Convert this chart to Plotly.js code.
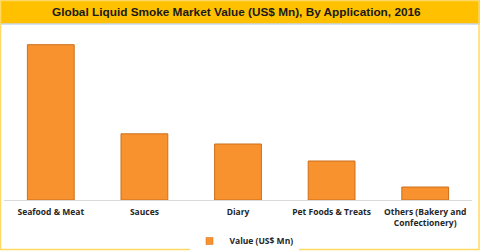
<!DOCTYPE html>
<html>
<head>
<meta charset="utf-8">
<script src="https://cdn.plot.ly/plotly-3.0.1.min.js"></script>
<style>html,body{margin:0;padding:0;background:#fff;}#chart{width:480px;height:251px;}</style>
</head>
<body>
<div id="chart"></div>
<script>
const categories = ["Seafood & Meat", "Sauces", "Diary", "Pet Foods & Treats", "Others (Bakery and<br>Confectionery)"];
const values = [155.3, 66.2, 56.0, 39.0, 13.0];
const seriesName = "Value (US$ Mn)";
const chartTitle = "Global Liquid Smoke Market Value (US$ Mn), By Application, 2016";

const W = 480, H = 251;
const mL = 4, mR = 8, mT = 28, mB = 51;
const pw = W - mL - mR, ph = H - mT - mB;
const px = x => (x - mL) / pw;
const py = y => 1 - (y - mT) / ph;
const FONT = '"Open Sans", sans-serif';

const bars = {
  type: 'bar',
  x: categories,
  y: values,
  name: seriesName,
  width: 0.5,
  marker: {color: '#F7922E', line: {color: '#CD6E1C', width: 1}},
  showlegend: false,
  hoverinfo: 'none'
};
const legendEntry = {
  type: 'scatter', mode: 'markers',
  x: [categories[0]], y: [null],
  name: '<b>' + seriesName + '</b>',
  marker: {symbol: 'square', size: 7, color: '#F7922E', line: {color: '#CD6E1C', width: 0.5}},
  showlegend: true, hoverinfo: 'none'
};

const layout = {
  width: W, height: H,
  margin: {l: mL, r: mR, t: mT, b: mB, pad: 0, autoexpand: false},
  paper_bgcolor: '#ffffff',
  plot_bgcolor: '#ffffff',
  font: {family: FONT, size: 8.5, color: '#262626'},
  xaxis: {
    automargin: false,
    showline: true, linecolor: '#D9D9D9', linewidth: 1,
    ticks: '', showgrid: false, zeroline: false,
    tickmode: 'array', tickvals: categories, ticktext: categories.map(c => '<b>' + c + '</b>'),
    tickfont: {family: FONT, size: 8.5, color: '#262626'},
    ticklabelstandoff: 4,
    fixedrange: true
  },
  yaxis: {
    automargin: false,
    range: [0, ph], visible: false, showgrid: false, zeroline: false, fixedrange: true
  },
  showlegend: true,
  legend: {
    orientation: 'h', x: px(244), xanchor: 'center', y: py(241), yanchor: 'middle',
    font: {family: FONT, size: 8.5, color: '#262626'},
    itemwidth: 30, itemsizing: 'trace'
  },
  shapes: [
    {type: 'rect', xref: 'paper', yref: 'paper', x0: px(0), x1: px(480), y0: py(0), y1: py(23.5),
     fillcolor: '#FFC000', line: {width: 0}, layer: 'below'},
    {type: 'line', xref: 'paper', yref: 'paper', x0: px(0), x1: px(480), y0: py(24), y1: py(24),
     line: {color: '#A9C4E8', width: 1}},
    {type: 'rect', xref: 'paper', yref: 'paper', x0: px(0.5), x1: px(479), y0: py(0.5), y1: py(249.5),
     fillcolor: 'rgba(0,0,0,0)', line: {color: '#FFD966', width: 1.5}}
  ],
  annotations: [
    {xref: 'paper', yref: 'paper', x: px(236), y: py(11.5), xanchor: 'center', yanchor: 'middle',
     text: '<b>' + chartTitle + '</b>', showarrow: false,
     font: {family: '"Liberation Sans", Arial, sans-serif', size: 11.8, color: '#1a1a1a'}}
  ]
};

Plotly.newPlot('chart', [bars, legendEntry], layout, {displayModeBar: false, staticPlot: true});
</script>
</body>
</html>
